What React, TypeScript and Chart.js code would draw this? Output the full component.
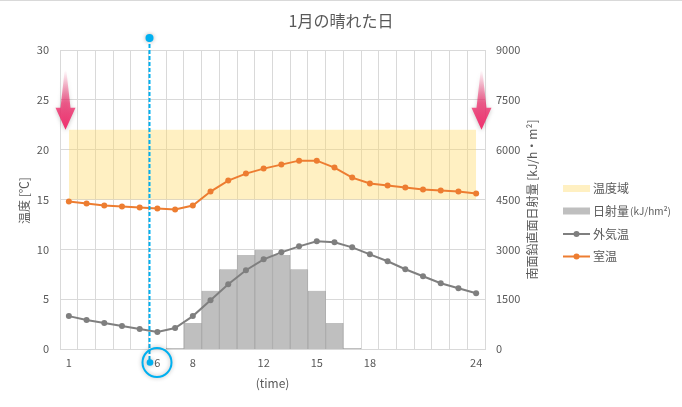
import React, { useEffect, useRef } from "react";
import { Chart, registerables } from "chart.js";

Chart.register(...registerables);

const hours = ["1","2","3","4","5","6","7","8","9","10","11","12","13","14","15","16","17","18","19","20","21","22","23","24"];
const shownHourLabels = ["1", "6", "8", "12", "15", "18", "24"];
const outdoorTemp = [3.3, 2.9, 2.6, 2.3, 2.0, 1.7, 2.1, 3.3, 4.9, 6.5, 7.9, 9.0, 9.7, 10.3, 10.8, 10.7, 10.2, 9.5, 8.8, 8.0, 7.3, 6.6, 6.1, 5.6];
const roomTemp = [14.8, 14.6, 14.4, 14.3, 14.2, 14.1, 14.0, 14.4, 15.8, 16.9, 17.6, 18.1, 18.5, 18.9, 18.9, 18.2, 17.2, 16.6, 16.4, 16.2, 16.0, 15.9, 15.8, 15.6];
const solarRadiation = [0, 0, 0, 0, 0, 0, 30, 780, 1750, 2400, 2830, 2980, 2830, 2400, 1750, 780, 30, 0, 0, 0, 0, 0, 0, 0];
const comfortUpper = [22, 22, 22, 22, 22, 22, 22, 22, 22, 22, 22, 22, 22, 22, 22, 22, 22, 22, 22, 22, 22, 22, 22, 22];
const comfortLower = 15;
const arrowFromTemp = 28;
const markerHour = "6";

const FONT = "'Noto Sans CJK JP', 'Noto Sans', sans-serif";
const TEXT = "#595959";
const GRID = "#d9d9d9";
const BAND = "rgba(255,217,102,0.4)";
const BAR = "#bfbfbf";
const GRAY = "#7f7f7f";
const ORANGE = "#ed7d31";
const BLUE = "#00b0f0";
const PINK = "240,48,110";

function drawArrow(ctx: CanvasRenderingContext2D, cx: number, yTop: number, yBottom: number) {
  const headH = 22;
  const headW = 20;
  const shaftW = 10;
  const yHead = yBottom - headH;
  const g = ctx.createLinearGradient(0, yTop, 0, yBottom);
  g.addColorStop(0, `rgba(${PINK},0)`);
  g.addColorStop(0.55, `rgba(${PINK},0.75)`);
  g.addColorStop(1, `rgba(${PINK},1)`);
  ctx.save();
  ctx.shadowColor = "rgba(0,0,0,0.25)";
  ctx.shadowBlur = 4;
  ctx.shadowOffsetY = 1;
  ctx.beginPath();
  ctx.moveTo(cx - 0.8, yTop);
  ctx.lineTo(cx + 0.8, yTop);
  ctx.lineTo(cx + shaftW / 2, yHead);
  ctx.lineTo(cx + headW / 2, yHead);
  ctx.lineTo(cx, yBottom);
  ctx.lineTo(cx - headW / 2, yHead);
  ctx.lineTo(cx - shaftW / 2, yHead);
  ctx.closePath();
  ctx.fillStyle = g;
  ctx.fill();
  ctx.restore();
}

const decorPlugin = {
  id: "decor",
  beforeDraw(chart: any) {
    const ctx = chart.ctx;
    ctx.save();
    ctx.fillStyle = "#fff";
    ctx.fillRect(0, 0, chart.width, chart.height);
    ctx.fillStyle = GRID;
    ctx.fillRect(0, 0, chart.width, 1);
    ctx.restore();
  },
  afterDraw(chart: any) {
    const ctx: CanvasRenderingContext2D = chart.ctx;
    const area = chart.chartArea;
    const xs = chart.scales.x;
    const ys = chart.scales.y;
    ctx.save();

    // Title
    ctx.fillStyle = TEXT;
    ctx.font = `16px ${FONT}`;
    ctx.textAlign = "center";
    ctx.textBaseline = "middle";
    ctx.fillText("1月の晴れた日", chart.width / 2, 21);

    // Axis titles
    ctx.font = `12px ${FONT}`;
    ctx.fillText("(time)", (area.left + area.right) / 2, 383);

    ctx.save();
    ctx.translate(24, (area.top + area.bottom) / 2 + 1);
    ctx.rotate(-Math.PI / 2);
    ctx.fillText("温度 [℃]", 0, 0);
    ctx.restore();

    ctx.save();
    ctx.translate(532, (area.top + area.bottom) / 2);
    ctx.rotate(-Math.PI / 2);
    ctx.fillText("南面鉛直面日射量 [kJ/h・m²]", 0, 0);
    ctx.restore();

    // Arrows
    const yTop = ys.getPixelForValue(arrowFromTemp);
    const yBot = ys.getPixelForValue(comfortUpper[0]);
    drawArrow(ctx, area.left + 5.5, yTop, yBot);
    drawArrow(ctx, area.right - 3.5, yTop, yBot);

    // Marker line
    const idx = hours.indexOf(markerHour);
    const cw = xs.getPixelForValue(1) - xs.getPixelForValue(0);
    const mx = Math.round(xs.getPixelForValue(idx) - cw / 2) + 0.5;
    const my0 = area.top - 12;
    const my1 = 362.5;
    ctx.strokeStyle = BLUE;
    ctx.lineWidth = 2;
    ctx.setLineDash([4, 2]);
    ctx.beginPath();
    ctx.moveTo(mx, my0);
    ctx.lineTo(mx, my1);
    ctx.stroke();
    ctx.setLineDash([]);

    ctx.save();
    ctx.shadowColor = "rgba(0,0,0,0.3)";
    ctx.shadowBlur = 4;
    ctx.fillStyle = BLUE;
    ctx.beginPath();
    ctx.arc(mx, my0, 4, 0, Math.PI * 2);
    ctx.fill();
    ctx.beginPath();
    ctx.arc(mx + 0.5, my1, 3.3, 0, Math.PI * 2);
    ctx.fill();
    ctx.lineWidth = 2;
    ctx.strokeStyle = BLUE;
    ctx.beginPath();
    ctx.arc(mx + 7.5, my1, 14.5, 0, Math.PI * 2);
    ctx.stroke();
    ctx.restore();

    // Legend
    const lx = 563;
    const lw = 27;
    const tx = 593;
    ctx.textAlign = "left";
    ctx.textBaseline = "middle";
    const rows = [188.5, 211, 234, 256.5];
    ctx.fillStyle = BAND;
    ctx.fillRect(lx, rows[0] - 3.5, lw, 7);
    ctx.fillStyle = BAR;
    ctx.fillRect(lx, rows[1] - 3.5, lw, 7);
    const lineItem = (y: number, c: string) => {
      ctx.strokeStyle = c;
      ctx.lineWidth = 2;
      ctx.beginPath();
      ctx.moveTo(lx, y);
      ctx.lineTo(lx + lw, y);
      ctx.stroke();
      ctx.fillStyle = c;
      ctx.beginPath();
      ctx.arc(lx + lw / 2, y, 3, 0, Math.PI * 2);
      ctx.fill();
    };
    lineItem(rows[2], GRAY);
    lineItem(rows[3], ORANGE);
    ctx.fillStyle = TEXT;
    ctx.font = `12px ${FONT}`;
    ctx.fillText("温度域", tx, rows[0]);
    ctx.fillText("日射量", tx, rows[1]);
    const w1 = ctx.measureText("日射量").width;
    ctx.font = `10px ${FONT}`;
    ctx.fillText("(kJ/hm²)", tx + w1 + 1, rows[1]);
    ctx.font = `12px ${FONT}`;
    ctx.fillText("外気温", tx, rows[2]);
    ctx.fillText("室温", tx, rows[3]);

    ctx.restore();
  },
};

export default function App() {
  const ref = useRef<HTMLCanvasElement | null>(null);
  useEffect(() => {
    if (!ref.current) return;
    const chart = new Chart(ref.current, {
      type: "bar",
      data: {
        labels: hours,
        datasets: [
          {
            type: "line",
            label: "温度域",
            data: comfortUpper,
            yAxisID: "y",
            fill: { value: comfortLower },
            backgroundColor: BAND,
            borderWidth: 0,
            borderColor: "rgba(0,0,0,0)",
            pointRadius: 0,
            order: 4,
          } as any,
          {
            type: "bar",
            label: "日射量(kJ/hm²)",
            data: solarRadiation,
            yAxisID: "y1",
            backgroundColor: BAR,
            borderColor: "#ababab",
            borderWidth: { left: 1, right: 1, top: 0, bottom: 0 },
            borderSkipped: false,
            barPercentage: 1,
            categoryPercentage: 1,
            order: 3,
          } as any,
          {
            type: "line",
            label: "外気温",
            data: outdoorTemp,
            yAxisID: "y",
            borderColor: GRAY,
            backgroundColor: GRAY,
            borderWidth: 2,
            pointRadius: 3,
            pointBorderWidth: 0,
            tension: 0,
            order: 2,
          } as any,
          {
            type: "line",
            label: "室温",
            data: roomTemp,
            yAxisID: "y",
            borderColor: ORANGE,
            backgroundColor: ORANGE,
            borderWidth: 2,
            pointRadius: 3,
            pointBorderWidth: 0,
            tension: 0,
            order: 1,
          } as any,
        ],
      },
      options: {
        animation: false,
        responsive: false,
        devicePixelRatio: 1,
        layout: { padding: { top: 50, left: 0, right: 0, bottom: 0 } },
        plugins: {
          legend: { display: false },
          title: { display: false },
          tooltip: { enabled: false },
        },
        font: { family: FONT, size: 11 },
        color: TEXT,
        scales: {
          x: {
            offset: true,
            grid: { color: GRID, offset: true, drawTicks: false },
            border: { color: GRID },
            ticks: {
              autoSkip: false,
              maxRotation: 0,
              padding: 7,
              color: TEXT,
              font: { family: FONT, size: 11 },
              callback: (_v: any, i: number) => (shownHourLabels.includes(hours[i]) ? hours[i] : ""),
            },
            afterFit: (s: any) => {
              s.height = 58;
            },
          },
          y: {
            position: "left",
            min: 0,
            max: 30,
            ticks: { stepSize: 5, padding: 11, color: TEXT, font: { family: FONT, size: 11 }, callback: (v: any) => String(v) },
            grid: { color: GRID, drawTicks: false },
            border: { display: false },
            afterFit: (s: any) => {
              s.width = 60;
            },
          },
          y1: {
            position: "right",
            min: 0,
            max: 9000,
            ticks: { stepSize: 1500, padding: 11, color: TEXT, font: { family: FONT, size: 11 }, callback: (v: any) => String(v) },
            grid: { display: false, drawTicks: false },
            border: { display: false },
            afterFit: (s: any) => {
              s.width = 197;
            },
          },
        },
      } as any,
      plugins: [decorPlugin],
    });
    return () => chart.destroy();
  }, []);
  return (
    <div style={{ position: "fixed", left: 0, top: 0, width: 682, height: 407, background: "#fff" }}>
      <canvas ref={ref} width={682} height={407} style={{ display: "block" }} />
    </div>
  );
}
